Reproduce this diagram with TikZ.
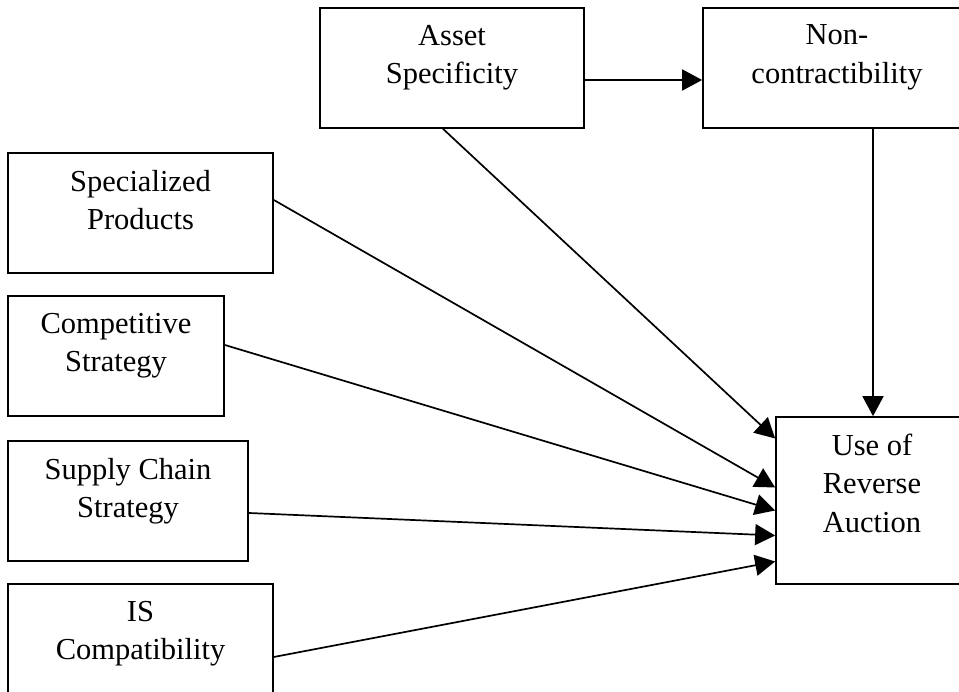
\documentclass[tikz,border=0pt]{standalone}
\usepackage{fontspec}
\setmainfont{Liberation Serif}
\usetikzlibrary{arrows.meta}

\begin{document}
\begin{tikzpicture}[x=1pt, y=1pt, line width=1.7pt,
	box/.style={draw, minimum width=#1, minimum height=120pt, inner sep=0},
	lbl/.style={anchor=north, align=center, inner sep=0, font=\fontsize{30.5}{38.5}\selectfont},
	link/.style={-{Triangle[length=20pt,width=21pt]}}]
	\clip (0,0) rectangle (959,692);

	\node[box=264pt] (asset)  at (452,624)   {};
	\node[box=268pt] (noncon) at (837,624)   {};
	\node[box=265pt] (spec)   at (140.5,479) {};
	\node[box=216pt] (comp)   at (116,336)   {};
	\node[box=240pt] (supply) at (128,191)   {};
	\node[box=265pt] (is)     at (140.5,48)  {};
	\node[box=192pt, minimum height=167pt] (use) at (872,191.5) {};

	\node[lbl] (assettxt)  at ([yshift=-17pt]asset.north)  {Asset\\Specificity};
	\node[lbl] (nonctxt)   at ([yshift=-17pt]noncon.north) {Non-\\contractibility};
	\node[lbl] (spectxt)   at ([yshift=-17pt]spec.north)   {Specialized\\Products};
	\node[lbl] (comptxt)   at ([yshift=-17pt]comp.north)   {Competitive\\Strategy};
	\node[lbl] (supplytxt) at ([yshift=-17pt]supply.north) {Supply Chain\\Strategy};
	\node[lbl] (istxt)     at ([yshift=-17pt]is.north)     {IS\\Compatibility};
	\node[lbl] (usetxt)    at ([yshift=-17pt]use.north)    {Use of\\Reverse\\Auction};

	\draw[link] ([yshift=-12pt]asset.east) -- ([yshift=-12pt]noncon.west);
	\draw[link] ([xshift=36pt]noncon.south) -- ([xshift=36pt]noncon.south |- use.north);
	\draw[link] ([xshift=-9pt]asset.south) -- ([yshift=62pt]use.west);
	\draw[link] ([yshift=13pt]spec.east) -- ([yshift=13pt]use.west);
	\draw[link] ([yshift=11pt]comp.east) -- ([yshift=-10pt]use.west);
	\draw[link] ([yshift=-12pt]supply.east) -- ([yshift=-35pt]use.west);
	\draw[link] ([yshift=-13pt]is.east) -- ([yshift=-61pt]use.west);
\end{tikzpicture}
\end{document}
